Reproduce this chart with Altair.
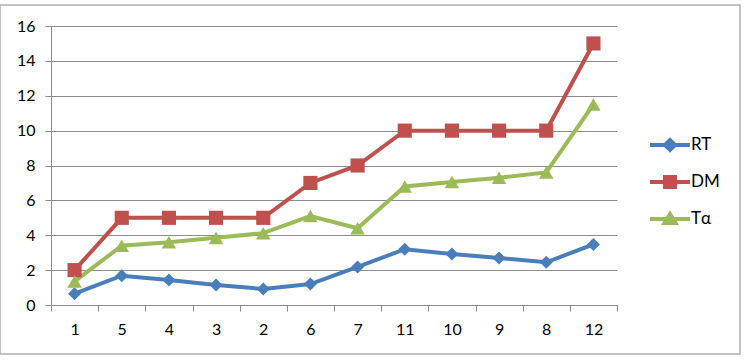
import altair as alt
import pandas as pd

categories = ["1", "5", "4", "3", "2", "6", "7", "11", "10", "9", "8", "12"]
series_names = ["RT", "DM", "Tα"]
rt = [0.65, 1.68, 1.43, 1.15, 0.92, 1.2, 2.18, 3.2, 2.93, 2.7, 2.45, 3.47]
dm = [2, 5, 5, 5, 5, 7, 8, 10, 10, 10, 10, 15]
ta = [1.35, 3.4, 3.6, 3.85, 4.12, 5.1, 4.4, 6.8, 7.05, 7.3, 7.6, 11.5]
y_ticks = [0, 2, 4, 6, 8, 10, 12, 14, 16]
colors = ["#4A7EBB", "#C0504D", "#9BBB59"]
marker_shapes = ["diamond", "square", "triangle-up"]
marker_sizes = [170, 200, 210]

rows = []
for name, vals in zip(series_names, [rt, dm, ta]):
    for c, v in zip(categories, vals):
        rows.append({"cat": c, "series": name, "value": v})
df = pd.DataFrame(rows)

FONT = "Lato"
x_enc = alt.X(
    "cat:N", sort=categories, bandPosition=0.5,
    scale=alt.Scale(type="band", paddingInner=0, paddingOuter=0),
    axis=alt.Axis(title=None, labelAngle=0, tickBand="extent", grid=False,
                  domainColor="#8C8C8C", tickColor="#8C8C8C", tickSize=6,
                  labelPadding=10, labelFontSize=16, labelFont=FONT,
                  labelColor="#000000"),
)
y_enc = alt.Y(
    "value:Q", scale=alt.Scale(domain=[0, 16], nice=False),
    axis=alt.Axis(title=None, values=y_ticks, grid=True, gridColor="#8C8C8C",
                  domainColor="#8C8C8C", tickColor="#8C8C8C", tickSize=6,
                  labelPadding=10, labelFontSize=16, labelFont=FONT,
                  labelColor="#000000"),
)

series_layers = []
for name, shp, sz, col in zip(series_names, marker_shapes, marker_sizes, colors):
    base = alt.Chart(df).transform_filter(alt.datum.series == name)
    series_layers.append(base.mark_line(strokeWidth=4, color=col).encode(x=x_enc, y=y_enc))
for name, shp, sz, col in zip(series_names, marker_shapes, marker_sizes, colors):
    base = alt.Chart(df).transform_filter(alt.datum.series == name)
    series_layers.append(
        base.mark_point(filled=True, opacity=1, shape=shp, size=sz, color=col).encode(x=x_enc, y=y_enc)
    )

legend_paths = [
    "M-2,0L2,0M-0.5,0L0,-0.5L0.5,0L0,0.5Z",
    "M-2,0L2,0M-0.5,-0.5L0.5,-0.5L0.5,0.5L-0.5,0.5Z",
    "M-2,0L2,0M-0.55,0.4L0,-0.5L0.55,0.4Z",
]
leg = alt.Legend(title=None, orient="none", legendX=607, legendY=107, padding=0,
                 symbolSize=400, symbolStrokeWidth=4, symbolOpacity=1,
                 labelFontSize=17, labelFont=FONT, labelColor="#000000",
                 labelOffset=9, rowPadding=11)
legend_layer = alt.Chart(df).transform_filter("false").mark_point(filled=True).encode(
    x=x_enc, y=y_enc,
    fill=alt.Fill("series:N", scale=alt.Scale(domain=series_names, range=colors), legend=leg),
    stroke=alt.Stroke("series:N", scale=alt.Scale(domain=series_names, range=colors), legend=leg),
    shape=alt.Shape("series:N", scale=alt.Scale(domain=series_names, range=legend_paths), legend=leg),
)

border = alt.Chart(pd.DataFrame({"a": [0]})).mark_rect(fill=None, stroke="#B0B0B0", strokeWidth=1.5).encode(
    x=alt.value(-51), x2=alt.value(689), y=alt.value(-21), y2=alt.value(328)
)

chart = alt.layer(border, *series_layers, legend_layer).properties(
    width=566, height=279,
    autosize=alt.AutoSizeParams(type="none"),
    padding={"left": 51, "top": 26, "right": 128, "bottom": 55},
    background="#FFFFFF",
).configure_view(stroke=None)

chart.save("out.html", embed_options={"renderer": "svg", "actions": False})
